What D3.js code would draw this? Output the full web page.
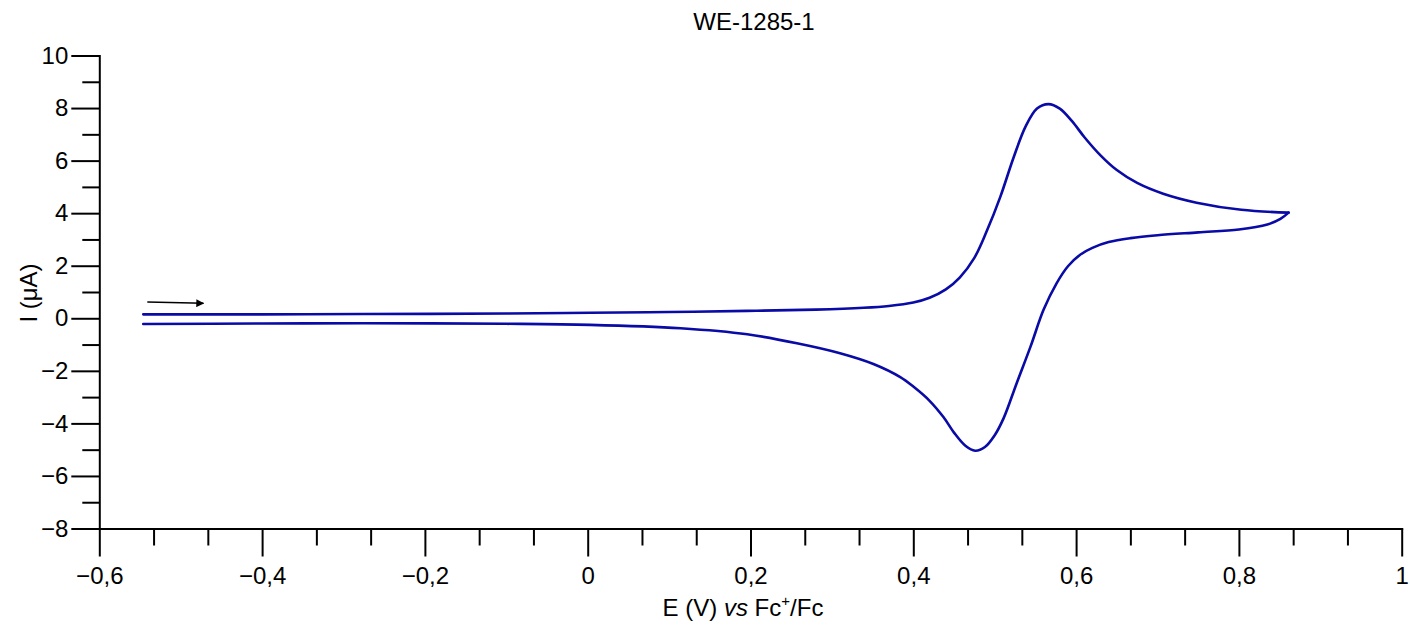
<!DOCTYPE html>
<html>
<head>
<meta charset="utf-8">
<script src="https://cdn.jsdelivr.net/npm/d3@7"></script>
<style>
  html, body { margin: 0; padding: 0; background: #fff; }
  svg { display: block; font-family: "Liberation Sans", Arial, sans-serif; }
</style>
</head>
<body>
<svg id="chart" width="1410" height="625"></svg>
<script>
// ---- data ----
const chartTitle = "WE-1285-1";
const xMajorTicks = [-0.6, -0.4, -0.2, 0, 0.2, 0.4, 0.6, 0.8, 1];
const yMajorTicks = [-8, -6, -4, -2, 0, 2, 4, 6, 8, 10];
const yMinorTicks = [-7, -5, -3, -1, 1, 3, 5, 7, 9];
const xMinorSteps = 3; // subdivisions of each 0.2 V interval

// forward (anodic) scan: potential (V) and current (µA)
const forwardE = [-0.546, -0.4, -0.276, -0.1, 0.003, 0.1, 0.196, 0.28, 0.339, 0.37, 0.40, 0.42, 0.44, 0.457, 0.475, 0.490, 0.507, 0.523, 0.538, 0.552, 0.566, 0.58, 0.595, 0.61, 0.63, 0.65, 0.675, 0.707, 0.748, 0.803, 0.861];
const forwardI = [0.15, 0.15, 0.16, 0.18, 0.21, 0.24, 0.28, 0.33, 0.40, 0.47, 0.60, 0.78, 1.10, 1.55, 2.30, 3.30, 4.63, 6.10, 7.30, 7.98, 8.15, 7.98, 7.50, 6.90, 6.20, 5.64, 5.15, 4.74, 4.40, 4.13, 4.02];

// reverse (cathodic) scan
const reverseE = [0.861, 0.851, 0.835, 0.80, 0.75, 0.70, 0.667, 0.64, 0.62, 0.605, 0.59, 0.576, 0.560, 0.544, 0.527, 0.511, 0.50, 0.488, 0.476, 0.464, 0.45, 0.437, 0.42, 0.40, 0.384, 0.351, 0.31, 0.257, 0.196, 0.114, 0.003, -0.1, -0.276, -0.4, -0.546];
const reverseI = [4.02, 3.78, 3.57, 3.38, 3.27, 3.16, 3.05, 2.90, 2.68, 2.42, 1.98, 1.33, 0.32, -1.08, -2.47, -3.80, -4.45, -4.90, -5.04, -4.85, -4.35, -3.76, -3.14, -2.60, -2.24, -1.74, -1.33, -0.95, -0.61, -0.38, -0.25, -0.21, -0.19, -0.20, -0.22];

// scan-direction arrow (data coordinates)
const arrowE = [-0.541, -0.472];
const arrowI = [0.62, 0.57];

// ---- drawing ----
const svg = d3.select("#chart");
const x = d3.scaleLinear().domain([-0.6, 1]).range([99.3, 1401.7]);
const y = d3.scaleLinear().domain([-8, 10]).range([528.5, 55.5]);
const FS = 24;

const loc = d3.formatLocale({decimal: ",", thousands: " ", grouping: [3], currency: ["", ""], minus: "\u2212"});
const fmt = loc.format("");

const xMinor = [];
for (let i = 0; i < xMajorTicks.length - 1; i++) {
  for (let k = 1; k < xMinorSteps; k++) {
    xMinor.push(xMajorTicks[i] + (xMajorTicks[i + 1] - xMajorTicks[i]) * k / xMinorSteps);
  }
}

function styleAxis(g) {
  g.selectAll("path.domain").attr("stroke", "#000").attr("stroke-width", 2);
  g.selectAll(".tick line").attr("stroke", "#000").attr("stroke-width", 2);
  g.selectAll(".tick text").attr("fill", "#000").attr("font-size", FS)
    .attr("font-family", "Liberation Sans, Arial, sans-serif");
}

// x axis minor
svg.append("g").attr("transform", `translate(0,${y(-8)})`)
  .call(d3.axisBottom(x).tickValues(xMinor).tickSize(17).tickSizeOuter(0).tickFormat(""))
  .call(g => g.select(".domain").remove())
  .call(styleAxis);
// x axis major
svg.append("g").attr("transform", `translate(0,${y(-8)})`)
  .call(d3.axisBottom(x).tickValues(xMajorTicks).tickSize(28).tickSizeOuter(0).tickPadding(10).tickFormat(d => fmt(d)))
  .call(styleAxis);

// y axis minor
svg.append("g").attr("transform", `translate(${x(-0.6)},0)`)
  .call(d3.axisLeft(y).tickValues(yMinorTicks).tickSize(17).tickSizeOuter(0).tickFormat(""))
  .call(g => g.select(".domain").remove())
  .call(styleAxis);
// y axis major
svg.append("g").attr("transform", `translate(${x(-0.6)},0)`)
  .call(d3.axisLeft(y).tickValues(yMajorTicks).tickSize(28).tickSizeOuter(0).tickPadding(3).tickFormat(d => fmt(d)))
  .call(styleAxis);

svg.selectAll(".domain").attr("stroke-linecap", "square");

// curves
const line = d3.line().x(d => x(d[0])).y(d => y(d[1])).curve(d3.curveCatmullRom.alpha(0.5));
const fwd = forwardE.map((e, i) => [e, forwardI[i]]);
const rev = reverseE.map((e, i) => [e, reverseI[i]]);
[fwd, rev].forEach(pts => {
  svg.append("path").attr("d", line(pts))
    .attr("fill", "none").attr("stroke", "#0a0aa6").attr("stroke-width", 2.6)
    .attr("stroke-linejoin", "round").attr("stroke-linecap", "round");
});

// arrow
svg.append("defs").append("marker")
  .attr("id", "ah").attr("viewBox", "0 0 10 10").attr("refX", 9).attr("refY", 5)
  .attr("markerWidth", 8).attr("markerHeight", 8).attr("markerUnits", "userSpaceOnUse")
  .attr("orient", "auto")
  .append("path").attr("d", "M0,0 L10,5 L0,10 Z").attr("fill", "#000");
svg.append("line")
  .attr("x1", x(arrowE[0])).attr("y1", y(arrowI[0]))
  .attr("x2", x(arrowE[1])).attr("y2", y(arrowI[1]))
  .attr("stroke", "#000").attr("stroke-width", 1.4).attr("marker-end", "url(#ah)");

// title
svg.append("text").attr("x", 754).attr("y", 30).attr("text-anchor", "middle")
  .attr("font-size", FS).attr("fill", "#000").text(chartTitle);

// x axis title
const xt = svg.append("text").attr("x", 743).attr("y", 616).attr("text-anchor", "middle")
  .attr("font-size", FS).attr("fill", "#000");
xt.append("tspan").text("E (V) ");
xt.append("tspan").attr("font-style", "italic").text("vs");
xt.append("tspan").text(" Fc");
xt.append("tspan").attr("font-size", 15).attr("dy", -10).text("+");
xt.append("tspan").attr("dy", 10).text("/Fc");

// y axis title
svg.append("text").attr("transform", "translate(37,293) rotate(-90)")
  .attr("text-anchor", "middle").attr("font-size", FS).attr("fill", "#000")
  .text("I (\u03bcA)");
</script>
</body>
</html>
